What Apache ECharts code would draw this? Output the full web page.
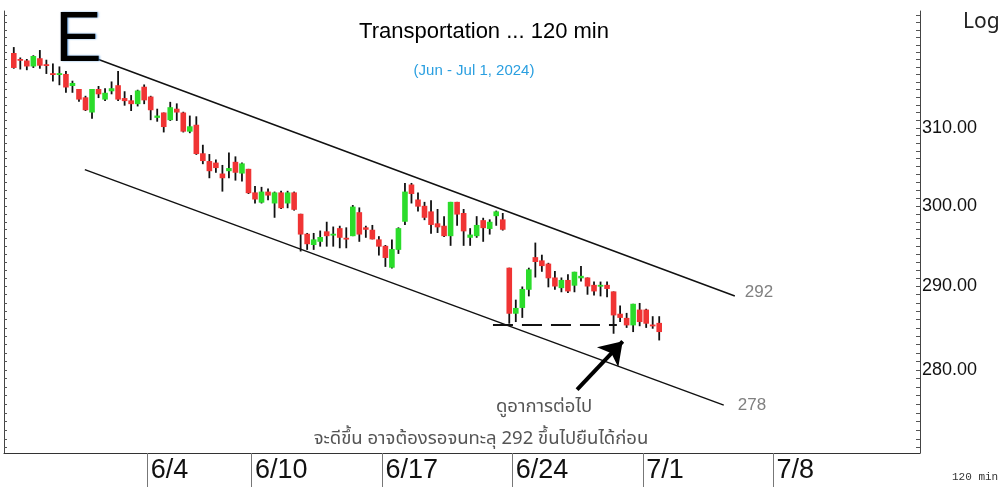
<!DOCTYPE html>
<html>
<head>
<meta charset="utf-8">
<script src="https://cdn.jsdelivr.net/npm/echarts/dist/echarts.min.js"></script>
<style>
  html, body { margin: 0; padding: 0; background: #fff; }
  #chart { width: 1003px; height: 487px; }
</style>
</head>
<body>
<div id="chart"></div>
<script>
// 120 min bars, Transportation index
// trading days on the x axis (6/3 is a holiday), 4 bars a day, first day shows only 2 bars
const days = ['5/24', '5/27', '5/28', '5/29', '5/30', '5/31', '6/4', '6/5', '6/6', '6/7',
    '6/10', '6/11', '6/12', '6/13', '6/14', '6/17', '6/18', '6/19', '6/20', '6/21',
    '6/24', '6/25', '6/26', '6/27', '6/28', '7/1', '7/2', '7/3', '7/4', '7/5',
    '7/8', '7/9', '7/10', '7/11', '7/12', '7/15'];
const tickDays = ['6/4', '6/10', '6/17', '6/24', '7/1', '7/8'];
const barsPerDay = 4;

// price labels on the right (log scale)
const priceLabels = [280, 290, 300, 310];

// first candle sits on bar index 1
const firstBar = 1;
// [open, close, low, high]
const candles = [
    [319.9, 317.9, 317.8, 320.7], [319.1, 318.9, 317.7, 319.3], [318.9, 318.1, 317.6, 319.1], [318.1, 319.5, 317.9, 319.6],
    [319.2, 318.2, 317.8, 320.3], [318.4, 318.2, 317.1, 319.0], [317.2, 317.1, 316.1, 318.5], [317.0, 317.2, 315.6, 318.1],
    [317.1, 315.3, 314.6, 317.5], [315.5, 315.9, 314.6, 316.2], [315.1, 313.7, 313.4, 315.1], [314.0, 312.3, 312.2, 314.2],
    [312.0, 315.1, 311.2, 315.1], [315.1, 314.4, 313.9, 315.5], [313.7, 314.6, 313.5, 315.2], [314.8, 315.2, 314.4, 316.1],
    [315.6, 313.7, 313.5, 317.5], [313.9, 313.5, 312.9, 314.8], [313.6, 313.1, 312.2, 314.3], [313.1, 314.9, 312.8, 315.0],
    [315.4, 313.6, 313.1, 315.7], [314.1, 312.3, 311.0, 314.2], [311.3, 311.6, 310.8, 312.5], [312.0, 310.1, 309.4, 312.0],
    [311.0, 312.7, 310.9, 313.4], [312.5, 312.0, 310.9, 313.2], [312.0, 309.5, 309.4, 312.1], [309.5, 310.2, 309.3, 311.6],
    [310.4, 306.6, 306.5, 311.5], [306.7, 305.7, 305.3, 307.8], [305.7, 304.4, 303.5, 306.6], [305.5, 304.8, 304.2, 305.9],
    [304.1, 303.5, 301.8, 305.2], [304.4, 304.8, 303.5, 306.8], [305.6, 304.2, 303.2, 306.3], [304.1, 305.4, 303.1, 305.5],
    [304.7, 301.6, 301.5, 304.7], [301.7, 300.8, 300.3, 302.5], [300.4, 301.8, 300.3, 302.4], [301.8, 301.3, 300.7, 302.2],
    [300.3, 301.7, 298.5, 301.8], [301.7, 299.7, 299.6, 301.9], [300.3, 301.7, 299.7, 301.9], [301.7, 299.5, 299.4, 301.8],
    [299.0, 296.4, 294.3, 299.0], [296.5, 295.2, 294.5, 296.6], [295.1, 295.8, 294.5, 296.6], [295.5, 296.1, 294.9, 296.9],
    [296.8, 296.2, 294.9, 298.0], [296.3, 296.5, 294.9, 297.4], [297.2, 296.0, 294.7, 297.5], [296.0, 295.9, 294.7, 297.3],
    [296.2, 299.9, 296.2, 300.1], [299.2, 296.4, 295.5, 299.8], [297.3, 297.0, 296.0, 297.5], [297.0, 295.8, 295.8, 297.6],
    [295.8, 294.9, 293.8, 296.2], [295.0, 293.5, 292.4, 295.1], [292.3, 294.6, 292.2, 295.8], [294.5, 297.2, 294.0, 297.3],
    [298.0, 301.8, 297.6, 302.9], [302.7, 301.5, 300.3, 302.9], [300.8, 299.9, 299.3, 301.7], [300.0, 298.5, 298.2, 300.5],
    [299.3, 297.6, 296.5, 300.7], [297.8, 297.3, 296.6, 299.6], [297.5, 296.2, 296.1, 298.7], [296.2, 300.5, 295.0, 300.5],
    [300.5, 298.9, 297.5, 300.5], [299.1, 296.8, 295.0, 299.6], [296.0, 296.4, 295.0, 297.2], [296.2, 297.6, 296.0, 298.7],
    [298.2, 297.2, 295.5, 298.5], [297.1, 298.0, 296.4, 298.3], [298.7, 299.3, 297.5, 299.4], [298.3, 297.0, 296.9, 299.1],
    [292.3, 286.7, 285.5, 292.3], [286.7, 287.4, 285.7, 288.4], [287.4, 289.7, 286.2, 290.0], [289.6, 292.1, 288.8, 292.3],
    [293.6, 293.0, 291.1, 295.4], [293.2, 292.5, 291.8, 293.9], [292.8, 291.0, 289.9, 292.9], [291.1, 290.0, 289.6, 291.9],
    [289.8, 290.8, 289.3, 291.1], [290.8, 289.4, 289.2, 291.5], [290.1, 291.8, 289.3, 291.8], [291.0, 291.3, 290.6, 292.5],
    [291.1, 290.0, 289.0, 291.1], [290.2, 289.4, 288.9, 290.6], [290.0, 290.2, 288.8, 290.6], [290.2, 289.7, 288.7, 290.6],
    [289.4, 286.5, 284.3, 289.4], [286.7, 286.2, 285.7, 287.7], [286.2, 285.3, 285.0, 286.8], [285.3, 287.9, 284.5, 287.9],
    [287.2, 285.7, 285.2, 288.0], [287.2, 285.5, 285.0, 287.3], [285.4, 285.2, 284.9, 286.4], [285.6, 284.5, 283.5, 286.4],
];

// channel drawn by hand: [bar index, price]
const upperLine = [[13.8, 319.1], [111.6, 288.85]];
const lowerLine = [[11.9, 304.6], [109.9, 275.9]];
const upperText = '292';
const lowerText = '278';
// dashed support
const supportLine = [[74.5, 285.35], [93.5, 285.35]];
// arrow
const arrowFrom = [87.4, 277.7];
const arrowTo = [94.4, 283.4];

const noteLine1 = 'ดูอาการต่อไป';
const noteLine2 = 'จะดีขึ้น อาจต้องรอจนทะลุ 292 ขึ้นไปยืนได้ก่อน';

// first bar index of each day
const dayStart = {};
days.forEach((d, k) => { dayStart[d] = k * barsPerDay - 2; });
const labelAt = {};
tickDays.forEach(d => { labelAt[dayStart[d]] = d; });
const tickStarts = tickDays.map(d => dayStart[d]);
const tickBounds = tickStarts.map(i => i - 0.5);

const candleData = candles.map((c, k) => [firstBar + k, c[0], c[1], c[2], c[3]]);

// small ticks every point on the price axes
const minorTicks = [];
for (let p = 271; p <= 325; p++) minorTicks.push(p);

const UP = '#2bdc2b';
const DOWN = '#f03434';
const thaiFont = "'Noto Sans Thai', 'Noto Sans', 'DejaVu Sans', sans-serif";

const chart = echarts.init(document.getElementById('chart'));

const option = {
    animation: false,
    backgroundColor: '#fff',
    title: [
        {
            text: 'Transportation ... 120 min',
            left: 479, top: 16, textAlign: 'center',
            textStyle: { fontSize: 22, fontWeight: 'normal', color: '#000', fontFamily: 'Liberation Sans' }
        },
        {
            text: '(Jun - Jul 1, 2024)',
            left: 469, top: 58, textAlign: 'center',
            textStyle: { fontSize: 15, fontWeight: 'normal', color: '#2a9fe0', fontFamily: 'Liberation Sans' }
        }
    ],
    grid: { left: 4, right: 83, top: 11, bottom: 34, containLabel: false },
    xAxis: {
        type: 'value', min: -0.5, max: 140,
        axisLine: { show: true, onZero: false, lineStyle: { color: '#333', width: 1 } },
        axisTick: { show: true, customValues: tickBounds, length: 34, lineStyle: { color: '#777' } },
        axisLabel: {
            customValues: tickStarts,
            formatter: v => labelAt[v] || '',
            align: 'left', margin: 4,
            fontSize: 27, color: '#111',
            fontFamily: "'Liberation Sans Narrow', 'Arial Narrow', sans-serif"
        },
        splitLine: { show: false }
    },
    yAxis: [
        {
            type: 'log', position: 'right', min: 270.4, max: 325.6,
            axisLine: { show: true, onZero: false, lineStyle: { color: '#444' } },
            axisTick: { show: true, inside: true, length: 4, customValues: minorTicks, lineStyle: { color: '#555' } },
            axisLabel: {
                customValues: priceLabels,
                formatter: v => v.toFixed(2),
                margin: 2, fontSize: 18, color: '#111', fontFamily: 'Liberation Sans'
            },
            splitLine: { show: false }
        },
        {
            type: 'log', position: 'left', min: 270.4, max: 325.6,
            axisLine: { show: true, onZero: false, lineStyle: { color: '#444' } },
            axisTick: { show: true, inside: true, length: 3, customValues: minorTicks, lineStyle: { color: '#555' } },
            axisLabel: { show: false },
            splitLine: { show: false }
        }
    ],
    series: [
        {
            type: 'custom',
            name: 'Transportation',
            data: candleData,
            encode: { x: 0, y: [1, 2, 3, 4] },
            clip: true,
            renderItem: (params, api) => {
                const i = api.value(0);
                const o = api.value(1), c = api.value(2), l = api.value(3), h = api.value(4);
                const po = api.coord([i, o]);
                const pc = api.coord([i, c]);
                const pl = api.coord([i, l]);
                const ph = api.coord([i, h]);
                const w = 5.6;
                const top = Math.min(po[1], pc[1]);
                const hgt = Math.max(Math.abs(po[1] - pc[1]), 1.8);
                return {
                    type: 'group',
                    children: [
                        { type: 'line', shape: { x1: po[0], y1: ph[1], x2: po[0], y2: pl[1] },
                          style: { stroke: '#111', lineWidth: 1.8 } },
                        { type: 'rect', shape: { x: po[0] - w / 2, y: top, width: w, height: hgt },
                          style: { fill: c >= o ? UP : DOWN } }
                    ]
                };
            }
        },
        {
            type: 'line', data: upperLine, symbol: 'none', silent: true,
            lineStyle: { color: '#111', width: 1.5 },
            endLabel: { show: true, formatter: upperText, color: '#808080', fontSize: 17, distance: 10, offset: [0, -4], fontFamily: 'Liberation Sans' }
        },
        {
            type: 'line', data: lowerLine, symbol: 'none', silent: true,
            lineStyle: { color: '#111', width: 1.5 },
            endLabel: { show: true, formatter: lowerText, color: '#808080', fontSize: 17, distance: 14, offset: [0, 0], fontFamily: 'Liberation Sans' }
        },
        {
            type: 'line', data: supportLine, symbol: 'none', silent: true,
            lineStyle: { color: '#111', width: 2, type: [20, 9] },
            markLine: {
                silent: true,
                symbolSize: 22,
                label: { show: false },
                lineStyle: { color: '#000', width: 4, type: 'solid' },
                data: [[{ coord: arrowFrom, symbol: 'none' }, { coord: arrowTo, symbol: 'arrow' }]]
            }
        }
    ],
    graphic: [
        {
            type: 'text', left: 55, top: 7, z: 10,
            style: {
                text: 'E', fontSize: 70, fontFamily: 'Liberation Sans', fill: '#000',
                textShadowColor: 'rgba(60,140,220,0.8)', textShadowBlur: 2, textShadowOffsetX: 1, textShadowOffsetY: 0
            }
        },
        { type: 'text', left: 963, top: 12, style: { text: 'Log', fontSize: 21, fontFamily: 'Noto Sans', fill: '#222' } },
        { type: 'text', left: 952, top: 472, style: { text: '120 min', fontSize: 11, fontFamily: 'Liberation Mono', fill: '#333' } },
        {
            type: 'text', x: 544, y: 408,
            style: { text: noteLine1, fontSize: 18.5, fontFamily: thaiFont, fill: '#555', align: 'center', verticalAlign: 'middle' }
        },
        {
            type: 'text', x: 481, y: 440,
            style: { text: noteLine2, fontSize: 18.5, fontFamily: thaiFont, fill: '#555', align: 'center', verticalAlign: 'middle' }
        }
    ]
};

chart.setOption(option);
</script>
</body>
</html>
